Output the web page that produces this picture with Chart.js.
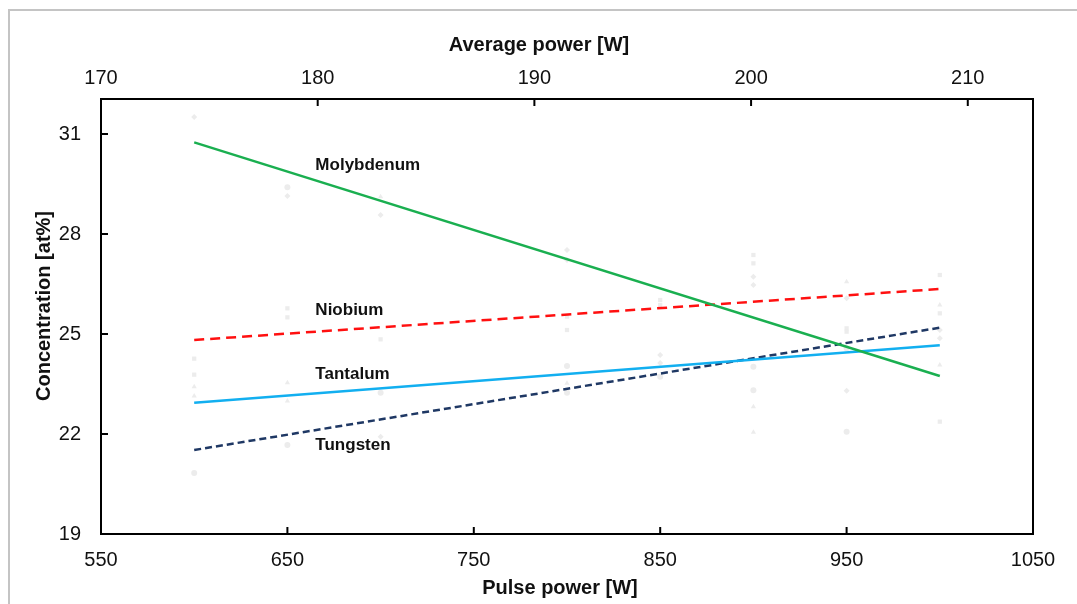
<!DOCTYPE html>
<html>
<head>
<meta charset="utf-8">
<script src="https://cdn.jsdelivr.net/npm/chart.js@4.4.1/dist/chart.umd.min.js"></script>
<style>
html,body{margin:0;padding:0;background:#fff;overflow:hidden}
#frame{position:absolute;left:8px;top:9px;width:1200px;height:700px;border-left:2px solid #c4c4c4;border-top:2px solid #c4c4c4}
#wrap{position:absolute;left:0;top:0;width:1077px;height:604px}
</style>
</head>
<body>
<div id="frame"></div>
<div id="wrap"><canvas id="chart" width="1077" height="604"></canvas></div>
<script>
// Fitted trend lines (pulse power -> at%)
const pulseFit=[600,1000];
const molybdenum=[30.75,23.74];
const niobium=[24.82,26.35];
const tantalum=[22.94,24.66];
const tungsten=[21.52,25.19];

// faint measured points behind the fits, [pulse power, at%]
const ptsSquare=[[600,24.26],[600,23.78],[650,25.77],[650,25.50],[700,24.84],[800,25.52],[800,25.12],[850,26.02],[850,25.87],[900,27.37],[900,27.12],[950,25.17],[950,25.07],[1000,26.77],[1000,25.62],[1000,22.37]];
const ptsTriangle=[[600,23.42],[600,23.14],[650,23.54],[650,22.99],[700,29.12],[800,23.52],[900,22.82],[900,22.05],[950,26.57],[1000,25.87],[1000,24.07]];
const ptsDiamond=[[600,31.51],[650,29.14],[700,28.57],[700,21.92],[800,27.52],[800,27.22],[850,24.37],[850,24.13],[900,26.72],[900,26.47],[950,26.07],[950,23.30],[1000,25.12],[1000,24.87]];
const ptsCircle=[[600,20.83],[650,29.40],[650,21.67],[700,23.24],[800,24.04],[800,23.24],[850,23.72],[900,24.02],[900,23.31],[950,24.57],[950,22.07]];

// axis ticks
const pulseTicks=[550,650,750,850,950,1050];
const avgTicks=[170,180,190,200,210];
const concTicks=[19,22,25,28,31];

// series name labels
const seriesNames=['Molybdenum','Niobium','Tantalum','Tungsten'];

const FONT='"Liberation Sans", Arial, sans-serif';
const toXY=(xs,ys)=>xs.map((x,i)=>({x:x,y:ys[i]}));
const toPts=arr=>arr.map(p=>({x:p[0],y:p[1]}));

// where the series names sit, in data units
const namePos=[{x:665,y:30.05},{x:665,y:25.70},{x:665,y:23.80},{x:665,y:21.67}];

const frame={
  id:'frame',
  afterDraw(chart){
    const c=chart.ctx, a=chart.chartArea;
    const sx=chart.scales.x, st=chart.scales.xTop, sy=chart.scales.y;
    c.save();
    c.strokeStyle='#000'; c.lineWidth=2;
    c.strokeRect(a.left,a.top,a.right-a.left,a.bottom-a.top);
    c.beginPath();
    // inward ticks
    sx.ticks.forEach(t=>{const px=sx.getPixelForValue(t.value); c.moveTo(px,a.bottom); c.lineTo(px,a.bottom-7);});
    st.ticks.forEach(t=>{const px=st.getPixelForValue(t.value); c.moveTo(px,a.top); c.lineTo(px,a.top+7);});
    sy.ticks.forEach(t=>{const py=sy.getPixelForValue(t.value); c.moveTo(a.left,py); c.lineTo(a.left+7,py);});
    c.stroke();
    // axis titles
    c.fillStyle='#111'; c.textAlign='center'; c.textBaseline='middle';
    c.font='bold 20px '+FONT;
    c.fillText('Average power [W]',539,45);
    c.fillText('Pulse power [W]',560,588);
    c.translate(44,306); c.rotate(-Math.PI/2);
    c.fillText('Concentration [at%]',0,0);
    c.restore();
    // series names
    c.save();
    c.font='bold 17px '+FONT; c.fillStyle='#111'; c.textAlign='left'; c.textBaseline='middle';
    seriesNames.forEach((n,i)=>{
      c.fillText(n,sx.getPixelForValue(namePos[i].x),sy.getPixelForValue(namePos[i].y));
    });
    c.restore();
  }
};

const lineDs=(label,ys,color,dash)=>({
  type:'line',label:label,data:toXY(pulseFit,ys),borderColor:color,borderWidth:2.5,
  borderDash:dash,pointRadius:0,fill:false,tension:0
});
const ptDs=(pts,style)=>({
  type:'scatter',data:toPts(pts),pointStyle:style,pointRadius:3,
  backgroundColor:'#ececec',borderColor:'#ececec',borderWidth:0,showLine:false
});
const plain=v=>String(v);

new Chart(document.getElementById('chart'),{
  type:'scatter',
  data:{datasets:[
    lineDs('Molybdenum',molybdenum,'#1aaf50',[]),
    lineDs('Niobium',niobium,'#ff1010',[10,6]),
    lineDs('Tantalum',tantalum,'#12aff0',[]),
    lineDs('Tungsten',tungsten,'#1f3864',[7,4]),
    ptDs(ptsSquare,'rect'),
    ptDs(ptsTriangle,'triangle'),
    ptDs(ptsDiamond,'rectRot'),
    ptDs(ptsCircle,'circle')
  ]},
  options:{
    responsive:false,animation:false,devicePixelRatio:1,
    layout:{padding:{left:0,top:0,right:44,bottom:0}},
    plugins:{legend:{display:false},tooltip:{enabled:false}},
    scales:{
      x:{type:'linear',position:'bottom',min:550,max:1050,
        afterFit:s=>{s.height=70;},
        afterBuildTicks:s=>{s.ticks=pulseTicks.map(v=>({value:v}));},
        grid:{display:false,drawTicks:false},border:{display:false},
        ticks:{padding:14,color:'#111',callback:plain,font:{family:FONT,size:20}}},
      xTop:{type:'linear',position:'top',min:170,max:213.01,
        afterFit:s=>{s.height=99;},
        afterBuildTicks:s=>{s.ticks=avgTicks.map(v=>({value:v}));},
        grid:{display:false,drawTicks:false},border:{display:false},
        ticks:{padding:9,color:'#111',callback:plain,font:{family:FONT,size:20}}},
      y:{type:'linear',position:'left',min:19,max:32.05,
        afterFit:s=>{s.width=101;},
        afterBuildTicks:s=>{s.ticks=concTicks.map(v=>({value:v}));},
        grid:{display:false,drawTicks:false},border:{display:false},
        ticks:{padding:20,color:'#111',callback:plain,font:{family:FONT,size:20}}}
    }
  },
  plugins:[frame]
});
</script>
</body>
</html>
